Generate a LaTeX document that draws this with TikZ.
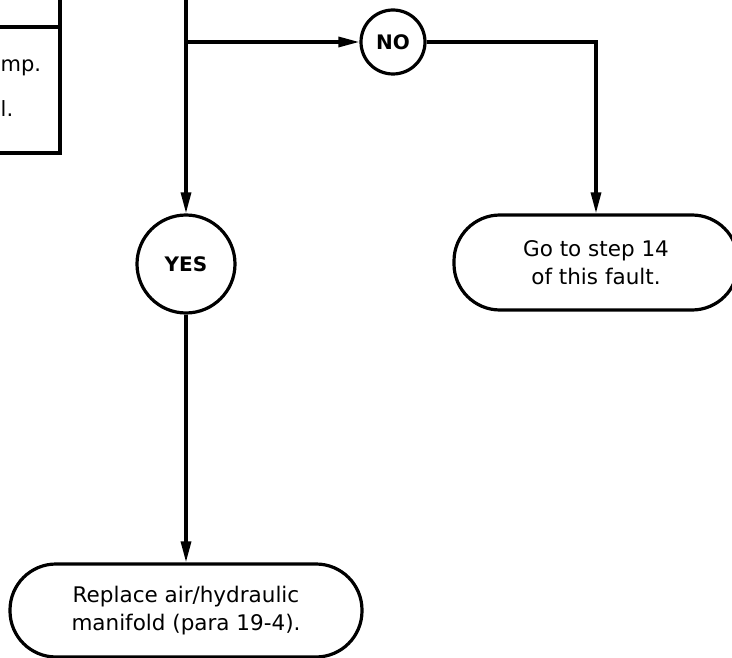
\documentclass[tikz,border=0pt]{standalone}
\usepackage{fontspec}
\setmainfont{DejaVu Sans}
\usetikzlibrary{arrows.meta}
\tikzset{
  flow/.style={line width=3.2pt},
  arr/.style={flow,-{Triangle[length=21pt,width=10pt]}},
  term/.style={draw,line width=3.2pt,rounded corners=46pt,align=center,
    font=\fontsize{21.5}{28}\selectfont,inner sep=0pt},
  answer/.style={draw,circle,line width=3.2pt,inner sep=0pt,
    font=\fontsize{20}{22}\selectfont\bfseries},
  txt/.style={font=\fontsize{21}{27}\selectfont,inner sep=0pt}
}
\begin{document}
\begin{tikzpicture}[x=1pt,y=-1pt]
\useasboundingbox (0,0) rectangle (732,658);
\clip (0,0) rectangle (732,658);
% partial box at left
\coordinate (lb1) at (-10,27);
\coordinate (lb2) at (60,27);
\coordinate (lb3) at (60,-10);
\coordinate (lb4) at (60,153);
\coordinate (lb5) at (-10,153);
\draw[flow] (lb1) -- (lb2);
\draw[flow,line join=miter] (lb3) -- (lb4) -- (lb5);
\node[txt,anchor=base west] (t1) at (0.5,72) {mp.};
\node[txt,anchor=base west] (t2) at (0.5,117) {l.};
% nodes
\node[answer,minimum size=64pt] (no) at (393,42) {NO};
\node[answer,minimum size=98pt] (yes) at (186,264) {YES};
\node[term,minimum width=284pt,minimum height=95pt] (goto) at (596,262.5)
  {Go to step 14\\of this fault.};
\node[term,minimum width=352pt,minimum height=93pt] (repl) at (186,610.5)
  {Replace air/hydraulic\\manifold (para 19-4).};
% connectors
\coordinate (top) at (186,-10);
\coordinate (j) at (186,42);
\draw[arr] (top) -- (yes);
\draw[arr] (j) -- (no);
\draw[arr] (no) -| (goto.north);
\draw[arr] (yes) -- (repl);
\end{tikzpicture}
\end{document}
